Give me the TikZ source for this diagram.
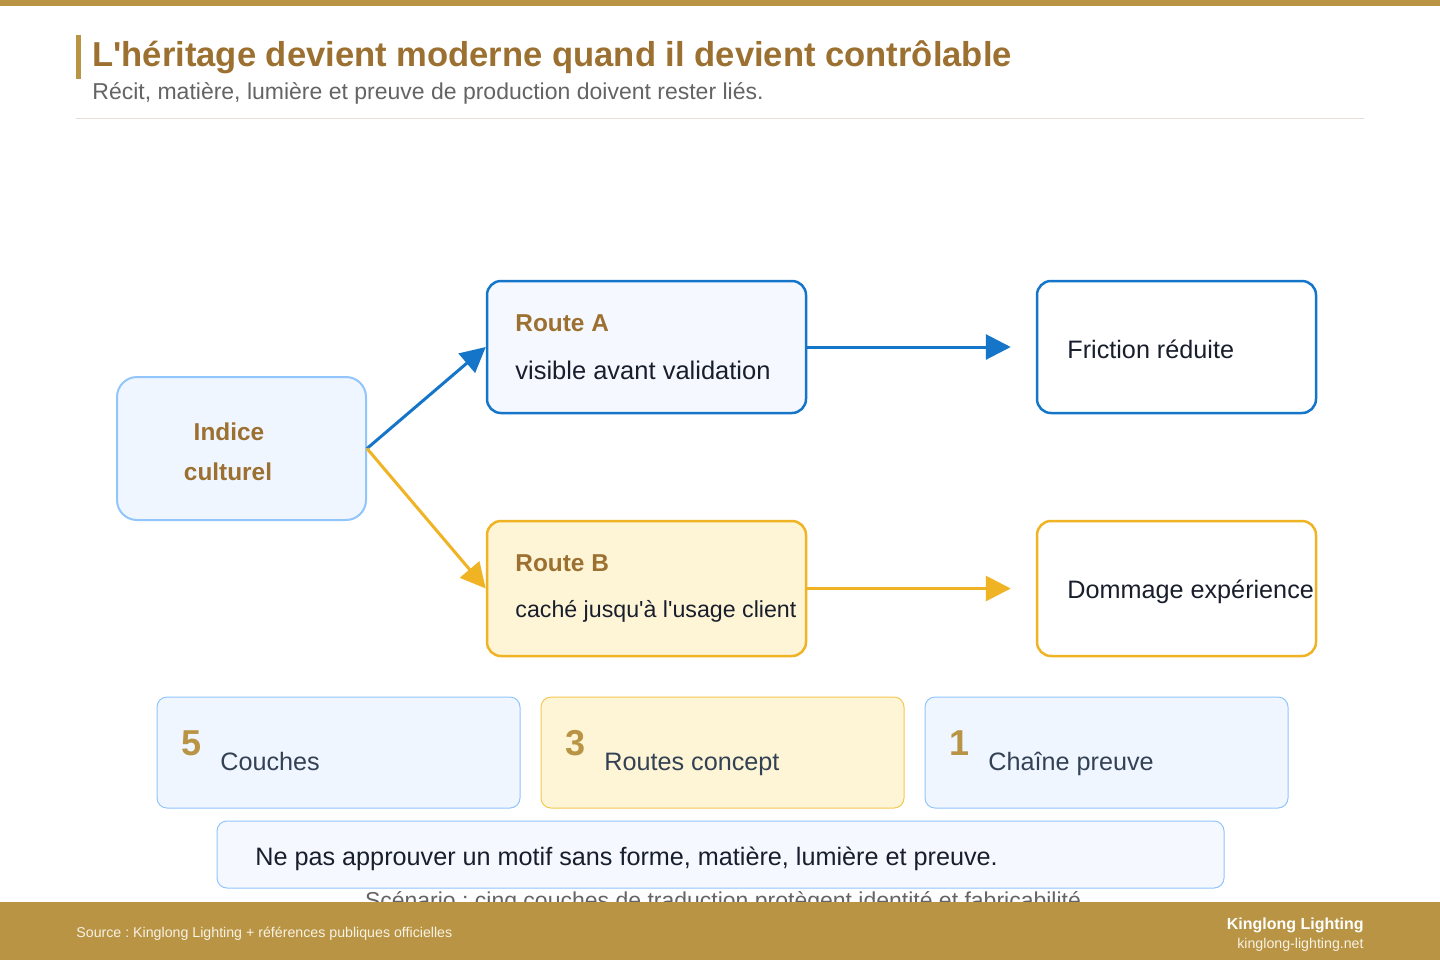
\documentclass[tikz,border=0pt]{standalone}
\usepackage{fontspec}
\setmainfont{Liberation Sans}[Ligatures=TeXOff]
\usetikzlibrary{arrows.meta}
\frenchspacing
\definecolor{gold}{RGB}{184,148,68}
\definecolor{titlebrown}{RGB}{156,112,48}
\definecolor{routeblue}{RGB}{21,118,201}
\definecolor{amber}{RGB}{240,179,35}
\definecolor{lightblue}{RGB}{147,197,253}
\definecolor{paleblue}{RGB}{239,246,255}
\definecolor{paleblueA}{RGB}{245,249,255}
\definecolor{paleamber}{RGB}{254,245,214}
\definecolor{cardamber}{RGB}{245,200,80}
\definecolor{darktext}{RGB}{24,30,44}
\definecolor{slate}{RGB}{51,65,85}
\definecolor{subgray}{RGB}{100,100,100}
\definecolor{divider}{RGB}{229,224,212}
\definecolor{cream}{RGB}{248,242,228}
\begin{document}
\begin{tikzpicture}[x=0.5pt,y=-0.5pt,
  mainbox/.style={draw, line width=1.25pt, rounded corners=7pt, inner sep=0pt, minimum width=159.5pt},
  endbox/.style={draw, line width=1.25pt, rounded corners=7pt, inner sep=0pt, minimum width=139.5pt, fill=white},
  card/.style={draw, line width=0.5pt, rounded corners=5pt, inner sep=0pt, minimum width=181.5pt, minimum height=55.5pt},
  lbl/.style={inner sep=0pt, anchor=base west},
  bigtxt/.style={font=\fontsize{12.6pt}{15pt}\selectfont, text=darktext},
  boldtxt/.style={font=\fontsize{12.2pt}{15pt}\selectfont\bfseries, text=titlebrown},
  numtxt/.style={font=\fontsize{18pt}{21pt}\selectfont\bfseries, text=gold},
  cardtxt/.style={font=\fontsize{12.6pt}{15pt}\selectfont, text=slate},
  conn/.style={line width=1.5pt, -{Triangle[length=12.5pt,width=12.5pt]}}
]
\useasboundingbox (0,0) rectangle (1440,960);
\fill[white] (0,0) rectangle (1440,960);
% header
\fill[gold] (0,0) rectangle (1440,6);
\fill[gold] (76,35) rectangle (81,79);
\node[lbl, font=\fontsize{17.3pt}{20pt}\selectfont\bfseries, text=titlebrown] (title) at (92,66) {L'héritage devient moderne quand il devient contrôlable};
\node[lbl, font=\fontsize{11.5pt}{13pt}\selectfont, text=subgray] (subtitle) at (92,99) {Récit, matière, lumière et preuve de production doivent rester liés.};
\draw[divider, line width=0.5pt] (76,118.5) -- (1364,118.5);

% main nodes
\node[draw=lightblue, fill=paleblue, line width=1pt, rounded corners=10pt, inner sep=0pt, minimum width=124.5pt, minimum height=71.5pt] (indice) at (241.5,448.5) {};
\node[boldtxt, inner sep=0pt, anchor=base] (indiceA) at (229,440) {Indice};
\node[boldtxt, inner sep=0pt, anchor=base] (indiceB) at (228,480) {culturel};

\node[mainbox, draw=routeblue, fill=paleblueA, minimum height=66pt] (routeA) at (646.5,347) {};
\node[lbl, boldtxt] (routeAt) at (515,331) {Route A};
\node[lbl, bigtxt, font=\fontsize{12.75pt}{15pt}\selectfont] (routeAs) at (515,379) {visible avant validation};

\node[mainbox, draw=amber, fill=paleamber, minimum height=67.5pt] (routeB) at (646.5,588.5) {};
\node[lbl, boldtxt] (routeBt) at (515,571) {Route B};
\node[lbl, bigtxt, font=\fontsize{11.6pt}{14pt}\selectfont] (routeBs) at (515,617) {caché jusqu'à l'usage client};

\node[endbox, draw=routeblue, minimum height=66pt] (friction) at (1176.5,347) {};
\node[lbl, bigtxt] (frictiont) at (1067,358) {Friction réduite};

\node[endbox, draw=amber, minimum height=67.5pt] (dommage) at (1176.5,588.5) {};
\node[lbl, bigtxt] (dommaget) at (1067,598) {Dommage expérience};

% connectors
\draw[conn, routeblue] (indice.east) -- (routeA.west);
\draw[conn, amber] (indice.east) -- (routeB.west);
\draw[conn, routeblue, shorten >=12.5pt] (routeA.east) -- (friction.west);
\draw[conn, amber, shorten >=12.5pt] (routeB.east) -- (dommage.west);

% stat cards
\node[card, draw=lightblue, fill=paleblue] (card1) at (338.5,752.5) {};
\node[lbl, numtxt] (n1) at (181,755) {5};
\node[lbl, cardtxt] (c1) at (220,770) {Couches};

\node[card, draw=cardamber, fill=paleamber] (card2) at (722.5,752.5) {};
\node[lbl, numtxt] (n2) at (565,755) {3};
\node[lbl, cardtxt] (c2) at (604,770) {Routes concept};

\node[card, draw=lightblue, fill=paleblue] (card3) at (1106.5,752.5) {};
\node[lbl, numtxt] (n3) at (949,755) {1};
\node[lbl, cardtxt] (c3) at (988,770) {Chaîne preuve};

% note
\node[draw=lightblue, fill=paleblueA, line width=0.5pt, rounded corners=5pt, inner sep=0pt, minimum width=503.5pt, minimum height=33.5pt] (note) at (720.5,854.5) {};
\node[lbl, bigtxt] (notet) at (255,865) {Ne pas approuver un motif sans forme, matière, lumière et preuve.};

\node[inner sep=0pt, anchor=base, font=\fontsize{11.5pt}{13pt}\selectfont, text=subgray] (scenario) at (723,908) {Scénario : cinq couches de traduction protègent identité et fabricabilité};

% footer
\fill[gold] (0,902) rectangle (1440,960);
\node[lbl, font=\fontsize{7.1pt}{9pt}\selectfont, text=cream] (source) at (76,937) {Source : Kinglong Lighting + références publiques officielles};
\node[inner sep=0pt, anchor=base east, font=\fontsize{8pt}{10pt}\selectfont\bfseries, text=white] (brand) at (1364,929) {Kinglong Lighting};
\node[inner sep=0pt, anchor=base east, font=\fontsize{7.1pt}{9pt}\selectfont, text=cream] (url) at (1364,948) {kinglong-lighting.net};
\end{tikzpicture}
\end{document}
